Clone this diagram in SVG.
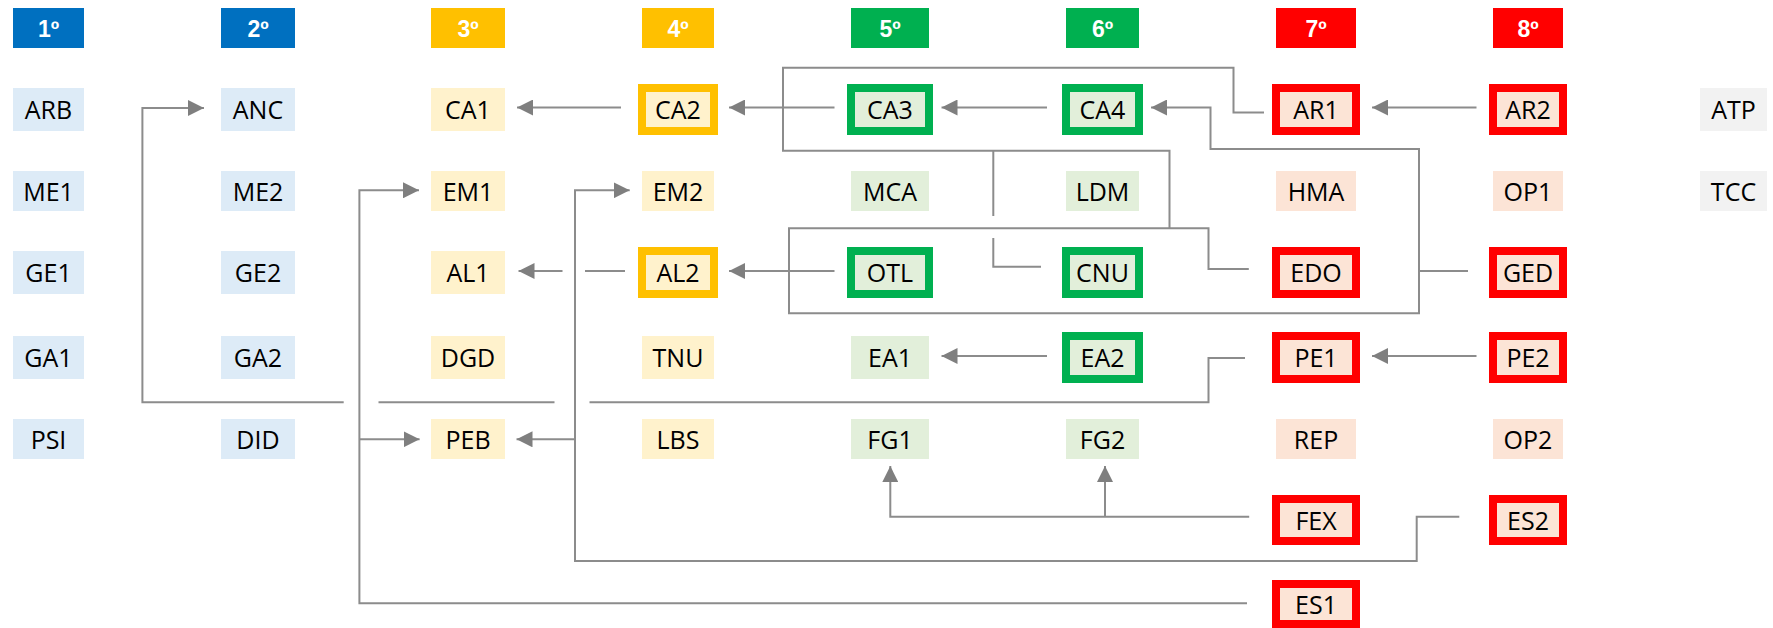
<svg xmlns="http://www.w3.org/2000/svg" width="1773" height="628" viewBox="0 0 1773 628">
<defs>
<style>
.hb{fill:#0070C0}.ho{fill:#FFC000}.hg{fill:#00B050}.hr{fill:#FF0000}
.nb{fill:#DDEBF7}.ny{fill:#FFF2CC}.ng{fill:#E2EFDA}.nr{fill:#FCE4D6}.nx{fill:#F2F2F2}
.bo{stroke:#FFC000;stroke-width:8}.bg{stroke:#00B050;stroke-width:8}.br{stroke:#FF0000;stroke-width:8}
text{font-family:"Open Sans","DejaVu Sans",sans-serif;text-anchor:middle}
.lbl{font-size:25px;fill:#000}
.hd{font-family:"Liberation Sans",Arial,sans-serif;font-size:23px;fill:#fff;font-weight:bold}
.c{fill:none;stroke:#8C8C8C;stroke-width:2}
.a{marker-end:url(#arr)}
</style>
<marker id="arr" markerUnits="userSpaceOnUse" markerWidth="16" markerHeight="16" refX="16" refY="8" orient="auto">
<path d="M0,0 L16,8 L0,16 z" fill="#7F7F7F"/>
</marker>
</defs>
<rect width="1773" height="628" fill="#fff"/>
<g id="headers">
<g id="h1"><rect class="hb" x="13" y="8" width="71" height="40"/><text class="hd" x="48.5" y="36.5">1º</text></g>
<g id="h2"><rect class="hb" x="221" y="8" width="74" height="40"/><text class="hd" x="258" y="36.5">2º</text></g>
<g id="h3"><rect class="ho" x="431" y="8" width="74" height="40"/><text class="hd" x="468" y="36.5">3º</text></g>
<g id="h4"><rect class="ho" x="642" y="8" width="72" height="40"/><text class="hd" x="678" y="36.5">4º</text></g>
<g id="h5"><rect class="hg" x="851" y="8" width="78" height="40"/><text class="hd" x="890" y="36.5">5º</text></g>
<g id="h6"><rect class="hg" x="1066" y="8" width="73" height="40"/><text class="hd" x="1102.5" y="36.5">6º</text></g>
<g id="h7"><rect class="hr" x="1276" y="8" width="80" height="40"/><text class="hd" x="1316" y="36.5">7º</text></g>
<g id="h8"><rect class="hr" x="1493" y="8" width="70" height="40"/><text class="hd" x="1528" y="36.5">8º</text></g>
</g>
<g id="connectors">
<path class="c a" d="M621,107.5 H517"/>
<path class="c a" d="M834.5,107.5 H729"/>
<path class="c a" d="M1047,107.5 H941.5"/>
<path class="c a" d="M1476.5,107.5 H1372"/>
<path class="c a" d="M1468,271 H1419 V149 H1210.5 V107.5 H1151"/>
<path class="c" d="M1264,112.5 H1233.5 V67.7 H783 V150.7 H1169.5 V228.3"/>
<path class="c" d="M1041,266.7 H993.3 V238"/>
<path class="c" d="M993.3,216 V150.7"/>
<path class="c" d="M1248.8,269 H1208.5 V228.3 H789 V313.3 H1419 V271"/>
<path class="c a" d="M834.5,271 H729"/>
<path class="c" d="M625,271 H585"/>
<path class="c a" d="M562.5,271 H518.5"/>
<path class="c a" d="M1047,356 H941.5"/>
<path class="c a" d="M1476.5,356 H1372"/>
<path class="c" d="M1245,358 H1208.5 V402.3 H589.5"/>
<path class="c" d="M554.5,402.3 H378.5"/>
<path class="c a" d="M343.7,402.3 H142.4 V108 H204"/>
<path class="c a" d="M1247,603.3 H359.4 V190.3 H419"/>
<path class="c a" d="M359.4,439.3 H419.6"/>
<path class="c a" d="M1459.3,516.7 H1416.7 V561 H575 V190.3 H629.7"/>
<path class="c a" d="M575,439.3 H516.5"/>
<path class="c a" d="M1249.2,516.7 H890.3 V466"/>
<path class="c a" d="M1105,516.7 V466"/>
</g>
<g id="n-ARB"><rect class="nb" x="13" y="88" width="71" height="43"/><text class="lbl" x="48.5" y="119">ARB</text></g>
<g id="n-ME1"><rect class="nb" x="13" y="171" width="71" height="40"/><text class="lbl" x="48.5" y="200.5">ME1</text></g>
<g id="n-GE1"><rect class="nb" x="13" y="251" width="71" height="43"/><text class="lbl" x="48.5" y="282">GE1</text></g>
<g id="n-GA1"><rect class="nb" x="13" y="336" width="71" height="43"/><text class="lbl" x="48.5" y="367">GA1</text></g>
<g id="n-PSI"><rect class="nb" x="13" y="419" width="71" height="40"/><text class="lbl" x="48.5" y="448.5">PSI</text></g>
<g id="n-ANC"><rect class="nb" x="221" y="88" width="74" height="43"/><text class="lbl" x="258" y="119">ANC</text></g>
<g id="n-ME2"><rect class="nb" x="221" y="171" width="74" height="40"/><text class="lbl" x="258" y="200.5">ME2</text></g>
<g id="n-GE2"><rect class="nb" x="221" y="251" width="74" height="43"/><text class="lbl" x="258" y="282">GE2</text></g>
<g id="n-GA2"><rect class="nb" x="221" y="336" width="74" height="43"/><text class="lbl" x="258" y="367">GA2</text></g>
<g id="n-DID"><rect class="nb" x="221" y="419" width="74" height="40"/><text class="lbl" x="258" y="448.5">DID</text></g>
<g id="n-CA1"><rect class="ny" x="431" y="88" width="74" height="43"/><text class="lbl" x="468" y="119">CA1</text></g>
<g id="n-EM1"><rect class="ny" x="431" y="171" width="74" height="40"/><text class="lbl" x="468" y="200.5">EM1</text></g>
<g id="n-AL1"><rect class="ny" x="431" y="251" width="74" height="43"/><text class="lbl" x="468" y="282">AL1</text></g>
<g id="n-DGD"><rect class="ny" x="431" y="336" width="74" height="43"/><text class="lbl" x="468" y="367">DGD</text></g>
<g id="n-PEB"><rect class="ny" x="431" y="419" width="74" height="40"/><text class="lbl" x="468" y="448.5">PEB</text></g>
<g id="n-CA2"><rect class="ny bo" x="642" y="88" width="72" height="43"/><text class="lbl" x="678" y="119">CA2</text></g>
<g id="n-EM2"><rect class="ny" x="642" y="171" width="72" height="40"/><text class="lbl" x="678" y="200.5">EM2</text></g>
<g id="n-AL2"><rect class="ny bo" x="642" y="251" width="72" height="43"/><text class="lbl" x="678" y="282">AL2</text></g>
<g id="n-TNU"><rect class="ny" x="642" y="336" width="72" height="43"/><text class="lbl" x="678" y="367">TNU</text></g>
<g id="n-LBS"><rect class="ny" x="642" y="419" width="72" height="40"/><text class="lbl" x="678" y="448.5">LBS</text></g>
<g id="n-CA3"><rect class="ng bg" x="851" y="88" width="78" height="43"/><text class="lbl" x="890" y="119">CA3</text></g>
<g id="n-MCA"><rect class="ng" x="851" y="171" width="78" height="40"/><text class="lbl" x="890" y="200.5">MCA</text></g>
<g id="n-OTL"><rect class="ng bg" x="851" y="251" width="78" height="43"/><text class="lbl" x="890" y="282">OTL</text></g>
<g id="n-EA1"><rect class="ng" x="851" y="336" width="78" height="43"/><text class="lbl" x="890" y="367">EA1</text></g>
<g id="n-FG1"><rect class="ng" x="851" y="419" width="78" height="40"/><text class="lbl" x="890" y="448.5">FG1</text></g>
<g id="n-CA4"><rect class="ng bg" x="1066" y="88" width="73" height="43"/><text class="lbl" x="1102.5" y="119">CA4</text></g>
<g id="n-LDM"><rect class="ng" x="1066" y="171" width="73" height="40"/><text class="lbl" x="1102.5" y="200.5">LDM</text></g>
<g id="n-CNU"><rect class="ng bg" x="1066" y="251" width="73" height="43"/><text class="lbl" x="1102.5" y="282">CNU</text></g>
<g id="n-EA2"><rect class="ng bg" x="1066" y="336" width="73" height="43"/><text class="lbl" x="1102.5" y="367">EA2</text></g>
<g id="n-FG2"><rect class="ng" x="1066" y="419" width="73" height="40"/><text class="lbl" x="1102.5" y="448.5">FG2</text></g>
<g id="n-AR1"><rect class="nr br" x="1276" y="88" width="80" height="43"/><text class="lbl" x="1316" y="119">AR1</text></g>
<g id="n-HMA"><rect class="nr" x="1276" y="171" width="80" height="40"/><text class="lbl" x="1316" y="200.5">HMA</text></g>
<g id="n-EDO"><rect class="nr br" x="1276" y="251" width="80" height="43"/><text class="lbl" x="1316" y="282">EDO</text></g>
<g id="n-PE1"><rect class="nr br" x="1276" y="336" width="80" height="43"/><text class="lbl" x="1316" y="367">PE1</text></g>
<g id="n-REP"><rect class="nr" x="1276" y="419" width="80" height="40"/><text class="lbl" x="1316" y="448.5">REP</text></g>
<g id="n-FEX"><rect class="nr br" x="1276" y="499" width="80" height="42"/><text class="lbl" x="1316" y="529.5">FEX</text></g>
<g id="n-ES1"><rect class="nr br" x="1276" y="584" width="80" height="40"/><text class="lbl" x="1316" y="613.5">ES1</text></g>
<g id="n-AR2"><rect class="nr br" x="1493" y="88" width="70" height="43"/><text class="lbl" x="1528" y="119">AR2</text></g>
<g id="n-OP1"><rect class="nr" x="1493" y="171" width="70" height="40"/><text class="lbl" x="1528" y="200.5">OP1</text></g>
<g id="n-GED"><rect class="nr br" x="1493" y="251" width="70" height="43"/><text class="lbl" x="1528" y="282">GED</text></g>
<g id="n-PE2"><rect class="nr br" x="1493" y="336" width="70" height="43"/><text class="lbl" x="1528" y="367">PE2</text></g>
<g id="n-OP2"><rect class="nr" x="1493" y="419" width="70" height="40"/><text class="lbl" x="1528" y="448.5">OP2</text></g>
<g id="n-ES2"><rect class="nr br" x="1493" y="499" width="70" height="42"/><text class="lbl" x="1528" y="529.5">ES2</text></g>
<g id="n-ATP"><rect class="nx" x="1700" y="88" width="67" height="43"/><text class="lbl" x="1733.5" y="119">ATP</text></g>
<g id="n-TCC"><rect class="nx" x="1700" y="171" width="67" height="40"/><text class="lbl" x="1733.5" y="200.5">TCC</text></g>
</svg>
